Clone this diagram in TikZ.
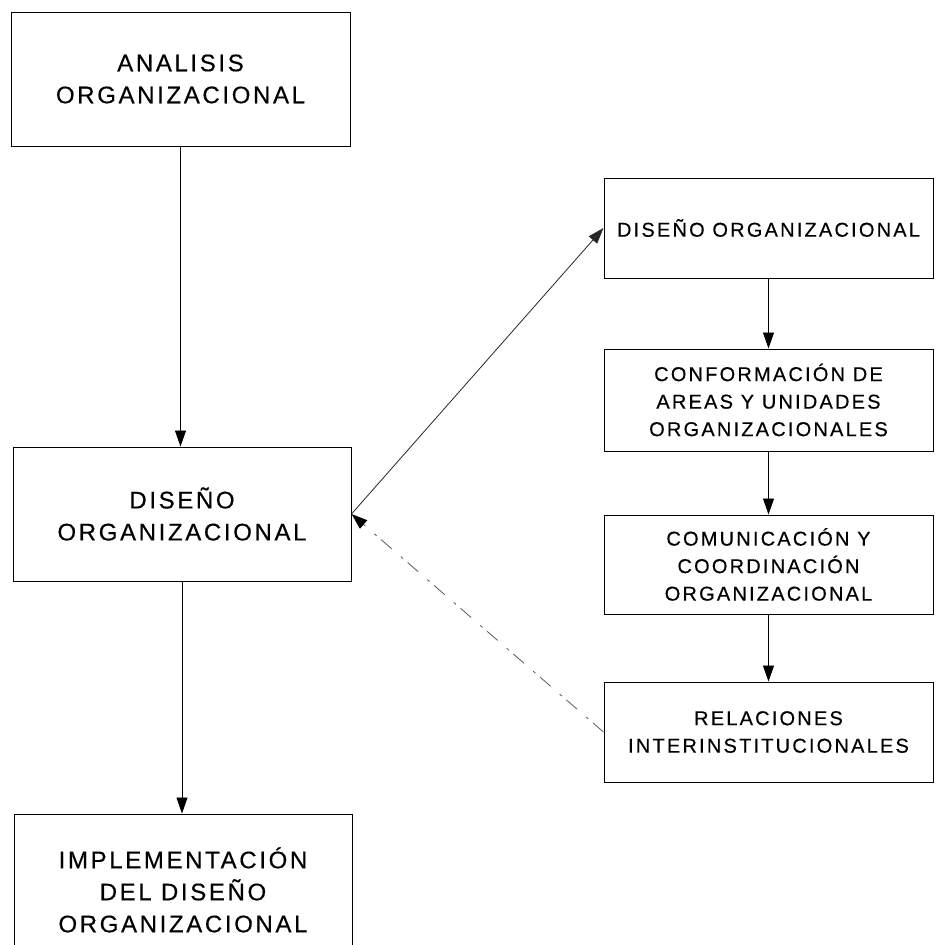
\documentclass[tikz,border=0pt]{standalone}
\usepackage{fontspec}
\setmainfont[LetterSpace=11,FakeBold=0.4]{Liberation Sans}
\usetikzlibrary{arrows.meta}
\tikzset{
  box/.style={draw, line width=1pt, align=center, inner sep=0pt},
  bigbox/.style={box, font=\fontsize{24}{32}\selectfont},
  smallbox/.style={box, font=\fontsize{20}{27.5}\selectfont, minimum width=329pt},
  conn/.style={line width=0.9pt, -{Triangle[length=16pt,width=11pt]}},
  diag/.style={line width=0.8pt, black!85, -{Triangle[length=16pt,width=11pt]}},
  back/.style={line width=0.8pt, black!65, dash pattern=on 14pt off 6pt on 3pt off 12pt, -{Triangle[length=16pt,width=11pt,color=black]}}
}
\begin{document}
\begin{tikzpicture}[x=1pt, y=-1pt]
\useasboundingbox (0,0) rectangle (935,945);
\node[bigbox, minimum width=339pt, minimum height=134pt] (A) at (180.5,79) {ANALISIS\\ORGANIZACIONAL};
\node[bigbox, minimum width=338pt, minimum height=134pt] (B) at (182,514) {DISEÑO\\ORGANIZACIONAL};
\node[bigbox, minimum width=338pt, minimum height=152pt] (C) at (183,890) {IMPLEMENTACIÓN\\DEL DISEÑO\\ORGANIZACIONAL};
\node[smallbox, minimum height=100pt] (R1) at (768.5,228) {DISEÑO ORGANIZACIONAL};
\node[smallbox, minimum height=102pt] (R2) at (768.5,400) {CONFORMACIÓN DE\\AREAS Y UNIDADES\\ORGANIZACIONALES};
\node[smallbox, minimum height=99pt] (R3) at (768.5,564.5) {COMUNICACIÓN Y\\COORDINACIÓN\\ORGANIZACIONAL};
\node[smallbox, minimum height=100pt] (R4) at (768.5,732) {RELACIONES\\INTERINSTITUCIONALES};
\draw[conn] (A.south) -- (A.south |- B.north);
\draw[conn] (B.south) -- (B.south |- C.north);
\draw[conn] (R1.south) -- (R1.south |- R2.north);
\draw[conn] (R2.south) -- (R2.south |- R3.north);
\draw[conn] (R3.south) -- (R3.south |- R4.north);
\draw[diag] (B.east) -- (R1.west);
\draw[back] (R4.west) -- (B.east);
\end{tikzpicture}
\end{document}
